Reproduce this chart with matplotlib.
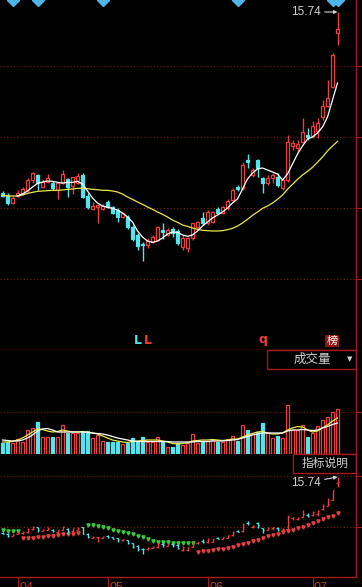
import numpy as np
import matplotlib
matplotlib.use('Agg')
import matplotlib.pyplot as plt
from matplotlib.patches import Rectangle

plt.rcParams['font.family'] = ['Liberation Sans', 'Noto Sans CJK SC', 'DejaVu Sans']

# ---- data (prices in yuan, volume in 10k lots) ----
opens = [10.31, 10.25, 10.01, 10.22, 10.31, 10.40, 10.70, 10.85, 10.49, 10.64,
         10.61, 10.40, 10.61, 10.73, 10.52, 10.61, 10.85, 10.22, 9.83, 9.89,
         9.83, 10.04, 9.89, 9.80, 9.59, 9.59, 9.29, 9.05, 8.78, 8.75,
         8.84, 8.90, 9.20, 9.05, 9.23, 9.17, 8.69, 8.66, 8.96, 9.29,
         9.56, 9.41, 9.44, 9.83, 9.71, 9.86, 10.10, 10.49, 10.46, 11.30,
         10.85, 11.30, 10.76, 10.61, 10.76, 10.79, 10.46, 10.70, 11.72, 11.66,
         11.84, 12.05, 12.02, 12.17, 12.59, 12.92, 13.49, 15.11]
highs = [10.37, 10.31, 10.22, 10.40, 10.49, 10.76, 10.94, 10.88, 10.73, 10.88,
         10.67, 10.64, 11.00, 10.76, 10.79, 10.91, 10.91, 10.31, 10.04, 9.95,
         9.98, 10.10, 9.92, 9.86, 9.74, 9.65, 9.35, 9.11, 8.84, 8.96,
         9.05, 9.32, 9.41, 9.26, 9.29, 9.23, 9.05, 8.99, 9.41, 9.47,
         9.74, 9.80, 9.77, 9.89, 9.92, 10.13, 10.46, 10.55, 11.24, 11.48,
         11.06, 11.33, 10.79, 10.85, 10.91, 10.91, 10.76, 12.05, 11.90, 11.90,
         12.56, 12.26, 12.47, 12.56, 13.10, 13.70, 14.51, 15.74]
lows = [10.19, 9.95, 9.98, 10.19, 10.25, 10.34, 10.61, 10.40, 10.46, 10.61,
        10.40, 10.13, 10.58, 10.19, 10.28, 10.58, 10.16, 9.83, 9.80, 9.41,
        9.80, 9.86, 9.68, 9.44, 9.56, 9.23, 8.87, 8.60, 8.27, 8.66,
        8.81, 8.87, 8.93, 9.02, 8.99, 8.75, 8.60, 8.54, 8.90, 9.26,
        9.35, 9.35, 9.41, 9.68, 9.68, 9.80, 10.04, 10.37, 10.40, 11.06,
        10.79, 10.79, 10.31, 10.55, 10.61, 10.49, 10.40, 10.64, 11.60, 11.54,
        11.81, 11.90, 11.96, 11.96, 12.50, 12.89, 13.46, 14.75]
closes = [10.22, 10.01, 10.16, 10.31, 10.43, 10.70, 10.91, 10.61, 10.64, 10.76,
          10.46, 10.61, 10.88, 10.49, 10.79, 10.82, 10.19, 9.89, 9.92, 9.95,
          9.92, 9.89, 9.71, 9.59, 9.71, 9.29, 8.93, 8.72, 8.75, 8.87,
          8.99, 9.29, 9.14, 9.20, 9.11, 8.81, 8.96, 8.96, 9.41, 9.44,
          9.41, 9.74, 9.74, 9.71, 9.89, 10.07, 10.40, 10.43, 11.15, 11.24,
          11.00, 11.06, 10.61, 10.76, 10.85, 10.55, 10.70, 11.84, 11.81, 11.78,
          12.14, 11.99, 12.32, 12.41, 12.92, 13.16, 14.45, 15.23]
volumes = [3.2, 3.7, 3.2, 4.4, 3.7, 7.2, 7.7, 9.7, 5.2, 5.2,
           5.0, 5.0, 8.7, 6.2, 6.2, 6.2, 6.7, 7.0, 4.7, 5.7,
           3.9, 3.5, 3.5, 3.5, 3.0, 3.2, 4.9, 3.7, 5.2, 3.7,
           3.7, 5.2, 3.9, 2.2, 2.2, 3.4, 2.7, 3.2, 6.0, 3.4,
           3.7, 3.9, 4.2, 3.7, 3.7, 4.4, 5.4, 4.0, 8.7, 7.2,
           6.2, 6.7, 9.4, 6.2, 4.7, 5.4, 4.7, 14.7, 7.2, 7.2,
           8.7, 5.2, 6.4, 8.4, 10.2, 11.2, 12.5, 13.4]

# price moving averages (white one starts at day 3)
ma_short_start = 3
ma_short = [10.22, 10.28, 10.37, 10.49, 10.60, 10.64, 10.67, 10.66, 10.63, 10.61,
            10.63, 10.63, 10.66, 10.58, 10.37, 10.16, 10.01, 9.92, 9.88, 9.85,
            9.80, 9.71, 9.59, 9.44, 9.17, 8.99, 8.87, 8.83, 8.87, 8.96,
            9.08, 9.14, 9.13, 9.05, 9.01, 9.05, 9.17, 9.32, 9.44, 9.56,
            9.65, 9.74, 9.86, 10.01, 10.13, 10.43, 10.73, 10.91, 11.03, 11.06,
            11.00, 10.94, 10.88, 10.70, 10.88, 11.18, 11.48, 11.72, 11.93, 11.99,
            12.11, 12.29, 12.59, 13.10, 13.61]
ma_long = [10.24, 10.22, 10.22, 10.22, 10.25, 10.30, 10.33, 10.36, 10.37, 10.38,
           10.39, 10.39, 10.40, 10.42, 10.43, 10.45, 10.45, 10.44, 10.42, 10.41,
           10.39, 10.39, 10.37, 10.34, 10.28, 10.19, 10.12, 10.04, 9.97, 9.89,
           9.82, 9.74, 9.67, 9.59, 9.50, 9.43, 9.35, 9.31, 9.26, 9.22,
           9.19, 9.18, 9.17, 9.17, 9.18, 9.21, 9.25, 9.32, 9.41, 9.52,
           9.64, 9.74, 9.85, 9.92, 10.01, 10.12, 10.25, 10.42, 10.57, 10.72,
           10.85, 10.96, 11.08, 11.23, 11.39, 11.57, 11.72, 11.86]

# volume moving averages
vol_ma_short = [4.2, 4.05, 3.9, 3.9, 4.2, 4.8, 5.7, 6.9, 7.5, 7.65,
                7.2, 6.6, 6.6, 6.6, 6.6, 6.6, 6.6, 6.45, 6.3, 6.15,
                6.0, 5.7, 5.25, 4.8, 4.5, 4.2, 3.9, 3.75, 3.75, 3.75,
                3.75, 3.75, 3.75, 3.75, 3.6, 3.6, 3.6, 3.6, 3.6, 3.75,
                3.75, 3.75, 3.9, 3.9, 3.9, 4.05, 4.2, 4.35, 4.8, 5.25,
                5.7, 6.0, 6.3, 6.3, 6.3, 6.3, 6.3, 6.9, 7.2, 7.2,
                7.35, 7.2, 7.05, 7.2, 7.8, 8.25, 8.85, 9.3]
vol_ma_long = [3.6, 3.6, 3.75, 4.2, 4.8, 5.7, 6.6, 7.5, 7.35, 6.9,
               6.6, 6.75, 7.2, 6.9, 6.6, 6.6, 6.75, 6.6, 6.3, 6.0,
               5.4, 4.8, 4.2, 3.9, 3.6, 3.45, 3.75, 3.9, 4.05, 4.2,
               4.2, 4.2, 3.9, 3.6, 3.15, 3.0, 3.15, 3.3, 3.9, 4.05,
               4.2, 4.2, 4.35, 4.2, 4.05, 4.2, 4.5, 4.5, 5.1, 5.7,
               6.15, 6.6, 6.75, 6.3, 6.0, 6.0, 6.3, 7.2, 7.8, 8.25,
               8.1, 7.2, 6.6, 6.9, 7.8, 8.7, 9.9, 10.8]

# stop-and-reverse dots in the lower panel: (first day, values)
sar_green = [(0, [10.55, 10.50, 10.50, 10.45]),
             (17, [11.11, 11.08, 11.01, 10.91, 10.76, 10.59, 10.50, 10.37, 10.27, 10.18,
                   10.04, 9.88, 9.72, 9.55, 9.46, 9.43, 9.40, 9.36, 9.36, 9.36,
                   9.33, 9.30])]
sar_red = [(4, [9.79, 9.82, 9.85, 9.88, 9.94, 10.01, 10.04, 10.11, 10.18, 10.21,
                10.23, 10.27]),
           (39, [8.49, 8.53, 8.55, 8.62, 8.72, 8.78, 8.87, 8.97, 9.11, 9.23,
                 9.36, 9.50, 9.65, 9.82, 9.98, 10.11, 10.23, 10.37, 10.53, 10.59,
                 10.76, 10.91, 11.08, 11.24, 11.47, 11.63, 11.83, 11.98, 12.21])]

signal_days = [2, 7, 20, 47, 66, 67]
month_labels = ['04', '05', '06', '07']
month_starts = [3, 21, 41, 62]
last_high = 15.74

# ---- style ----
RED = '#f03c3c'
CYAN = '#54e4ee'
YELLOW = '#e8e84a'
LINE = '#a81818'
GRID = '#7a1a1a'
TXT = '#d0d0d0'

W, H = 362, 587

def fx(x):
    return x / W

def fy(y):
    return 1 - y / H

fig = plt.figure(figsize=(W / 100, H / 100), dpi=100, facecolor='black')

def make_ax(top, bottom):
    ax = fig.add_axes([0, fy(bottom), fx(356), (bottom - top) / H])
    ax.set_facecolor('black')
    for s in ['top', 'left']:
        ax.spines[s].set_visible(False)
    for s in ['right', 'bottom']:
        ax.spines[s].set_color(LINE)
        ax.spines[s].set_linewidth(1.0)
    ax.set_xlim(-0.5, 70.7)
    ax.tick_params(axis='x', bottom=False, labelbottom=False)
    ax.tick_params(axis='y', left=False, labelleft=False, right=True,
                   direction='out', length=4, color=LINE)
    ax.grid(axis='y', color=GRID, linestyle=(0, (1, 2)), linewidth=0.8)
    return ax

n = len(opens)
x = np.arange(n)
o = np.array(opens)
c = np.array(closes)
up = c >= o
cols = [RED if u else CYAN for u in up]
fills = ['black' if u else CYAN for u in up]
body_lo = np.minimum(o, c)
body_h = np.maximum(np.abs(c - o), 0.03)

# ---- main price panel ----
ax = make_ax(0, 350)
ax.set_ylim(5.6, 16.1)
ax.set_yticks([7.73, 9.86, 11.99, 14.12])
ax.vlines(x, lows, highs, colors=cols, lw=1.0, zorder=2)
ax.bar(x, body_h, bottom=body_lo, width=0.62, color=fills, edgecolor=cols,
       lw=0.9, zorder=3)
ax.plot(x, ma_long, color=YELLOW, lw=0.9, zorder=4)
ax.plot(np.arange(ma_short_start, ma_short_start + len(ma_short)), ma_short,
        color='white', lw=0.9, zorder=4)
ax.plot(signal_days, [16.1] * len(signal_days), 'D', color='#4cb6e6',
        markersize=6, zorder=5)
ax.annotate(f'{last_high:.2f}', xy=(n - 1, last_high), xytext=(63.6, last_high),
            ha='right', va='center', color=TXT, fontsize=8.5,
            arrowprops=dict(arrowstyle='-|>', color=TXT, lw=0.8,
                            mutation_scale=5, shrinkA=1, shrinkB=0))

# ---- volume panel ----
axv = make_ax(350, 454)
axv.set_ylim(0, 31.2)
axv.set_yticks([12.6])
axv.bar(x, volumes, width=0.62, color=fills, edgecolor=cols, lw=0.9, zorder=3)
axv.plot(x, vol_ma_long, color=YELLOW, lw=0.9, zorder=4)
axv.plot(x, vol_ma_short, color='white', lw=0.9, zorder=4)

# ---- indicator panel (bars + stop-and-reverse) ----
axi = make_ax(454, 577)
axi.set_ylim(6.03, 17.97)
axi.set_yticks([10.88, 15.84])
axi.vlines(x, lows, highs, colors=cols, lw=1.0, zorder=3)
axi.hlines(opens, x - 0.35, x, colors=cols, lw=0.9, zorder=3)
axi.hlines(closes, x, x + 0.35, colors=cols, lw=0.9, zorder=3)
for start, vals in sar_green:
    axi.plot(np.arange(start, start + len(vals)), vals, 'v', color='#3cc83c',
             markersize=2.3, zorder=2)
for start, vals in sar_red:
    axi.plot(np.arange(start, start + len(vals)), vals, 'v', color='#e84040',
             markersize=2.3, zorder=2)
axi.annotate(f'{last_high:.2f}', xy=(n - 1, last_high), xytext=(63.6, 15.16),
             ha='right', va='center', color=TXT, fontsize=8.5,
             arrowprops=dict(arrowstyle='-|>', color=TXT, lw=0.8,
                             mutation_scale=5, shrinkA=1, shrinkB=0))
axi.set_xticks(month_starts)
axi.tick_params(axis='x', bottom=True, direction='out', length=8, color=LINE)
for d, lab in zip(month_starts, month_labels):
    axi.text(d + 0.3, -0.04, lab, transform=axi.get_xaxis_transform(),
             ha='left', va='top', color='#c03838', fontsize=9, clip_on=False)

# ---- labels and boxes ----
fig.add_artist(Rectangle((fx(267), fy(369)), fx(356) - fx(267), fy(350) - fy(369),
                         transform=fig.transFigure, fill=False, ec=LINE, lw=1.0))
fig.text(fx(312), fy(360), '成交量', ha='center', va='center', color=TXT, fontsize=9)
fig.text(fx(350), fy(359), '▼', ha='center', va='center', color=TXT, fontsize=5,
         family='DejaVu Sans')
fig.add_artist(Rectangle((fx(293), fy(473)), fx(356) - fx(293), fy(454) - fy(473),
                         transform=fig.transFigure, fill=False, ec=LINE, lw=1.0))
fig.text(fx(325), fy(464), '指标说明', ha='center', va='center', color=TXT, fontsize=8.5)

fig.text(fx(138), fy(341), 'L', ha='center', va='center', color=CYAN,
         fontsize=9, fontweight='bold', family='DejaVu Sans')
fig.text(fx(148), fy(341), 'L', ha='center', va='center', color=RED,
         fontsize=9, fontweight='bold', family='DejaVu Sans')
fig.text(fx(263), fy(340), 'q', ha='center', va='center', color=RED,
         fontsize=9, fontweight='bold', family='DejaVu Sans')
fig.text(fx(332), fy(341), '榜', ha='center', va='center', color='white', fontsize=8,
         bbox=dict(boxstyle='square,pad=0.12', fc='#8c1414', ec='none'))

fig.savefig('out.png', dpi=100, facecolor='black')
